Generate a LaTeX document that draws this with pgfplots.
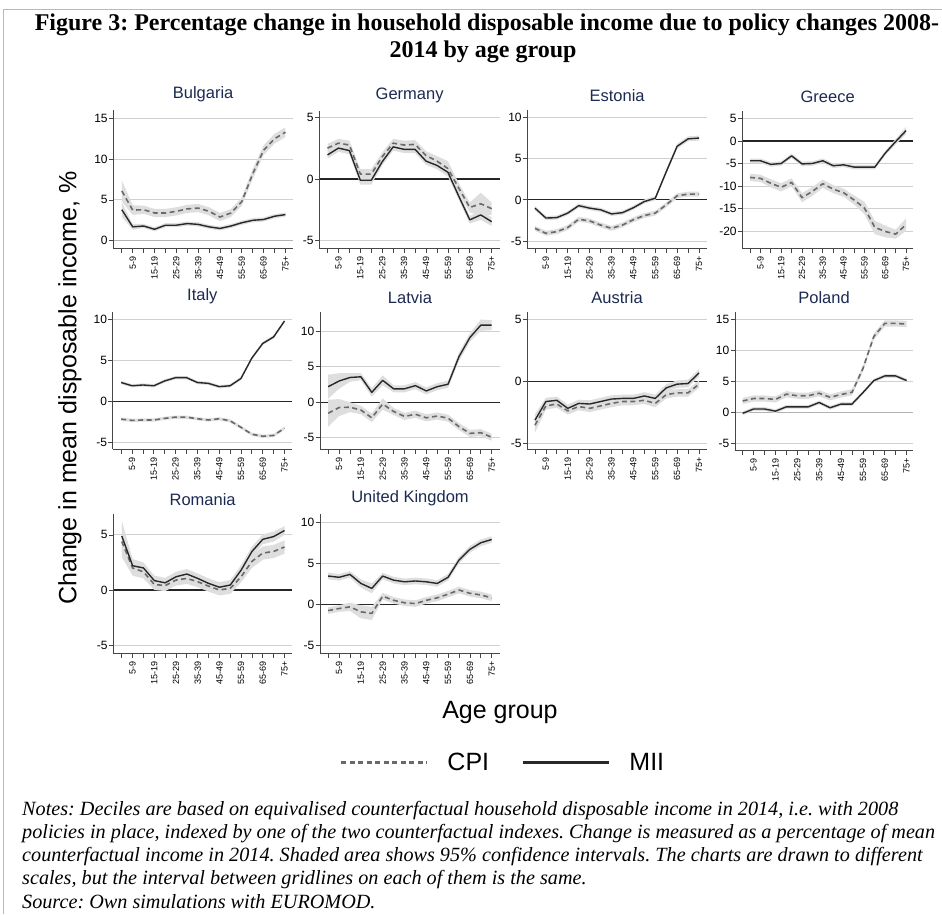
\documentclass[border=0pt]{standalone}
\usepackage{fontspec}
\setmainfont{Liberation Sans}
\newfontfamily\tnr{Liberation Serif}
\usepackage{pgfplots}
\pgfplotsset{compat=1.18}
\usepackage{pgfplotstable}
\usepgfplotslibrary{fillbetween}
\definecolor{titlecol}{RGB}{28,42,82}
\definecolor{bandcol}{RGB}{222,222,222}
\definecolor{cpicol}{RGB}{105,105,105}
\definecolor{miicol}{RGB}{40,40,40}
\definecolor{gridcol}{RGB}{208,208,208}
\definecolor{axcol}{RGB}{70,70,70}

\pgfplotstableread{
x cpi ce mii me
1 6.1 1.3 3.8 0.9
2 3.75 0.6 1.7 0.35
3 3.8 0.5 1.8 0.25
4 3.4 0.5 1.4 0.25
5 3.4 0.5 1.9 0.25
6 3.6 0.5 1.9 0.25
7 3.9 0.5 2.1 0.25
8 4.0 0.5 2.0 0.25
9 3.6 0.5 1.7 0.25
10 2.9 0.5 1.5 0.25
11 3.4 0.5 1.8 0.25
12 4.8 0.5 2.2 0.25
13 8.2 0.6 2.5 0.25
14 11.1 0.6 2.6 0.25
15 12.5 0.6 3.0 0.25
16 13.3 0.6 3.2 0.25
}\tBG
\pgfplotstableread{
x cpi ce mii me
1 2.5 0.35 1.95 0.3
2 2.9 0.35 2.5 0.3
3 2.75 0.35 2.3 0.3
4 0.4 0.4 -0.1 0.35
5 0.4 0.4 -0.1 0.35
6 1.8 0.35 1.4 0.3
7 2.9 0.35 2.6 0.3
8 2.75 0.35 2.4 0.3
9 2.8 0.35 2.4 0.3
10 1.9 0.35 1.45 0.3
11 1.45 0.4 1.1 0.3
12 0.85 0.6 0.55 0.35
13 -0.75 0.4 -1.4 0.3
14 -2.3 0.4 -3.3 0.3
15 -2.0 0.9 -2.9 0.4
16 -2.4 0.5 -3.45 0.35
}\tDE
\pgfplotstableread{
x cpi ce mii me
1 -3.45 0.3 -1.0 0.25
2 -4.05 0.3 -2.2 0.25
3 -3.85 0.3 -2.15 0.25
4 -3.35 0.3 -1.6 0.25
5 -2.35 0.3 -0.7 0.25
6 -2.55 0.3 -1.0 0.25
7 -3.05 0.3 -1.2 0.25
8 -3.45 0.3 -1.7 0.25
9 -3.05 0.3 -1.55 0.25
10 -2.4 0.3 -0.95 0.25
11 -1.9 0.3 -0.2 0.25
12 -1.6 0.3 0.2 0.25
13 -0.6 0.3 3.4 0.3
14 0.5 0.3 6.5 0.3
15 0.7 0.3 7.4 0.3
16 0.7 0.3 7.5 0.3
}\tEE
\pgfplotstableread{
x cpi ce mii me
1 -8.1 0.8 -4.4 0.5
2 -8.3 0.8 -4.4 0.5
3 -9.4 0.9 -5.2 0.5
4 -10.3 0.9 -5.0 0.5
5 -9.2 0.9 -3.3 0.5
6 -12.6 1.0 -5.1 0.5
7 -11.2 1.0 -5.0 0.5
8 -9.5 0.9 -4.4 0.5
9 -10.7 0.9 -5.5 0.5
10 -11.5 0.9 -5.3 0.5
11 -13.1 1.0 -5.8 0.5
12 -14.9 1.4 -5.8 0.5
13 -19.2 1.5 -5.8 0.5
14 -20.1 1.3 -2.7 0.5
15 -20.7 1.0 -0.15 0.6
16 -18.6 1.4 2.3 0.8
}\tGR
\pgfplotstableread{
x cpi ce mii me
1 -2.2 0.2 2.3 0.2
2 -2.35 0.2 1.9 0.2
3 -2.3 0.2 2.0 0.2
4 -2.3 0.2 1.9 0.2
5 -2.1 0.2 2.5 0.2
6 -1.95 0.2 2.9 0.2
7 -1.95 0.2 2.9 0.2
8 -2.15 0.2 2.3 0.2
9 -2.3 0.2 2.2 0.2
10 -2.15 0.2 1.8 0.2
11 -2.4 0.2 1.9 0.2
12 -3.2 0.2 2.8 0.2
13 -4.05 0.2 5.3 0.2
14 -4.3 0.2 7.1 0.2
15 -4.2 0.2 7.9 0.2
16 -3.3 0.2 9.85 0.2
}\tIT
\pgfplotstableread{
x cpi ce mii me
1 -1.55 1.9 2.2 1.7
2 -0.75 1.2 3.0 1.1
3 -0.7 0.7 3.5 0.6
4 -1.1 0.6 3.6 0.5
5 -2.2 0.6 1.4 0.6
6 -0.25 0.8 3.1 0.7
7 -1.3 0.5 1.9 0.5
8 -2.0 0.5 1.9 0.5
9 -1.7 0.5 2.35 0.5
10 -2.2 0.5 1.6 0.5
11 -1.95 0.5 2.2 0.5
12 -2.25 0.5 2.55 0.5
13 -3.45 0.5 6.45 0.6
14 -4.4 0.5 9.15 0.6
15 -4.3 0.5 10.9 0.8
16 -4.95 0.5 10.9 0.7
}\tLV
\pgfplotstableread{
x cpi ce mii me
1 -3.5 0.6 -3.1 0.5
2 -1.95 0.3 -1.6 0.3
3 -1.8 0.3 -1.5 0.3
4 -2.35 0.3 -2.15 0.3
5 -2.0 0.3 -1.75 0.3
6 -2.15 0.3 -1.8 0.3
7 -1.95 0.3 -1.6 0.3
8 -1.75 0.3 -1.4 0.3
9 -1.6 0.3 -1.35 0.3
10 -1.6 0.3 -1.35 0.3
11 -1.5 0.3 -1.15 0.3
12 -1.75 0.3 -1.35 0.3
13 -1.05 0.3 -0.5 0.3
14 -0.9 0.3 -0.2 0.3
15 -0.9 0.3 -0.15 0.3
16 -0.2 0.3 0.7 0.3
}\tAT
\pgfplotstableread{
x cpi ce mii me
1 1.85 0.5 -0.15 0.3
2 2.25 0.5 0.55 0.3
3 2.25 0.5 0.55 0.3
4 2.1 0.5 0.2 0.3
5 2.95 0.5 0.9 0.3
6 2.7 0.5 0.9 0.3
7 2.7 0.5 0.9 0.3
8 3.1 0.5 1.6 0.3
9 2.45 0.5 0.75 0.3
10 2.9 0.5 1.35 0.3
11 3.25 0.5 1.35 0.3
12 7.1 0.5 3.2 0.3
13 12.3 0.5 5.15 0.3
14 14.4 0.5 5.9 0.3
15 14.4 0.5 5.9 0.3
16 14.3 0.5 5.15 0.3
}\tPL
\pgfplotstableread{
x cpi ce mii me
1 4.4 1.4 4.9 1.4
2 2.0 0.7 2.2 0.6
3 1.65 0.6 2.0 0.5
4 0.5 0.5 0.85 0.45
5 0.4 0.5 0.65 0.45
6 0.9 0.5 1.2 0.45
7 1.05 0.5 1.45 0.45
8 0.75 0.5 1.05 0.45
9 0.35 0.5 0.6 0.45
10 0.0 0.5 0.25 0.45
11 0.15 0.5 0.45 0.45
12 1.2 0.5 1.8 0.45
13 2.6 0.6 3.5 0.45
14 3.35 0.6 4.6 0.45
15 3.5 0.6 4.85 0.45
16 3.9 0.6 5.4 0.4
}\tRO
\pgfplotstableread{
x cpi ce mii me
1 -0.75 0.4 3.45 0.4
2 -0.5 0.4 3.3 0.4
3 -0.3 0.5 3.65 0.4
4 -0.9 0.8 2.55 0.5
5 -1.1 0.8 1.95 0.6
6 1.0 0.4 3.45 0.4
7 0.5 0.4 2.95 0.4
8 0.2 0.4 2.75 0.4
9 0.1 0.4 2.85 0.4
10 0.5 0.4 2.75 0.4
11 0.8 0.4 2.55 0.4
12 1.25 0.4 3.3 0.4
13 1.75 0.4 5.4 0.4
14 1.35 0.4 6.7 0.4
15 1.15 0.4 7.5 0.4
16 0.8 0.4 7.9 0.4
}\tUK

\pgfplotsset{
  cpistyle/.style={cpicol, line width=1.6pt, dash pattern=on 5pt off 3.5pt, line join=round},
  miistyle/.style={miicol, line width=1.4pt, line join=round},
  panel/.style={
    scale only axis, anchor=south west,
    axis x line*=bottom, axis y line*=left,
    xtick={1,...,16},
    xticklabels={,5-9,,15-19,,25-29,,35-39,,45-49,,55-59,,65-69,,75+},
    x tick label style={rotate=90, anchor=east, font=\fontsize{9}{9}\selectfont, inner sep=3pt},
    ytick distance=5,
    y tick label style={font=\fontsize{12}{12}\selectfont, inner sep=1pt},
    /pgf/number format/assume math mode=true,
    tick align=outside, major tick length=4.5pt,
    ymajorgrids, grid style={gridcol, line width=0.9pt},
    axis line style={axcol, line width=1pt},
    tick style={axcol, line width=0.8pt},
    extra y ticks={0}, extra y tick labels={},
    extra y tick style={grid style={black!85, line width=1.1pt}, major tick length=0pt},
    title style={font=\fontsize{16.5}{16.5}\selectfont, color=titlecol, yshift=-1.5pt},
  },
  greyzero/.style={extra y tick style={grid style={gray!60, line width=1.1pt}, major tick length=0pt}},
}

\newcommand{\panel}[1]{%
  \addplot[name path=ch, draw=none, forget plot] table[x=x, y expr=\thisrow{cpi}+\thisrow{ce}] {#1};
  \addplot[name path=cl, draw=none, forget plot] table[x=x, y expr=\thisrow{cpi}-\thisrow{ce}] {#1};
  \addplot[bandcol, forget plot] fill between[of=ch and cl];
  \addplot[name path=mh, draw=none, forget plot] table[x=x, y expr=\thisrow{mii}+\thisrow{me}] {#1};
  \addplot[name path=ml, draw=none, forget plot] table[x=x, y expr=\thisrow{mii}-\thisrow{me}] {#1};
  \addplot[bandcol, forget plot] fill between[of=mh and ml];
  \addplot[cpistyle] table[x=x, y=cpi] {#1};
  \addplot[miistyle] table[x=x, y=mii] {#1};
}

\begin{document}
\frenchspacing
\begin{tikzpicture}
\path (0pt,0pt) rectangle (942pt,914pt);
\draw[gray!55, line width=1pt] (3.5pt,0.5pt) -- (3.5pt,904.5pt) -- (941.5pt,904.5pt);

\node[anchor=base, font=\tnr\bfseries\fontsize{24}{24}\selectfont, inner sep=0pt] at (487pt,883pt)
  {Figure 3: Percentage change in household disposable income due to policy changes 2008-};
\node[anchor=base, font=\tnr\bfseries\fontsize{24}{24}\selectfont, inner sep=0pt] at (483pt,856pt)
  {2014 by age group};

% Row 1
\begin{axis}[panel, at={(113.3pt,665.7pt)}, width=179.7pt, height=138.3pt,
  xmin=0.22, xmax=16.69, ymin=-0.93, ymax=16.02, title={Bulgaria}, greyzero]
\panel{\tBG}
\end{axis}
\begin{axis}[panel, at={(319.3pt,665.7pt)}, width=180.7pt, height=137.3pt,
  xmin=0.25, xmax=16.76, ymin=-5.6, ymax=5.5, title={Germany}]
\panel{\tDE}
\end{axis}
\begin{axis}[panel, at={(527.3pt,665.7pt)}, width=179.7pt, height=138.3pt,
  xmin=0.3, xmax=16.73, ymin=-5.87, ymax=10.9, title={Estonia}]
\panel{\tEE}
\end{axis}
\begin{axis}[panel, at={(742.3pt,665pt)}, width=170.7pt, height=138pt,
  xmin=0.26, xmax=16.67, ymin=-24.0, ymax=6.66, title={Greece}]
\panel{\tGR}
\end{axis}
% Row 2
\begin{axis}[panel, at={(112.7pt,464.7pt)}, width=179.3pt, height=137.6pt,
  xmin=0.22, xmax=16.69, ymin=-5.9, ymax=11.0, title={Italy}]
\panel{\tIT}
\end{axis}
\begin{axis}[panel, at={(320pt,464pt)}, width=180pt, height=138.3pt,
  xmin=0.25, xmax=16.76, ymin=-6.75, ymax=12.8, title={Latvia}]
\panel{\tLV}
\end{axis}
\begin{axis}[panel, at={(527.3pt,464pt)}, width=179.7pt, height=138.3pt,
  xmin=0.3, xmax=16.73, ymin=-5.5, ymax=5.63, title={Austria}]
\panel{\tAT}
\end{axis}
\begin{axis}[panel, at={(735pt,463.3pt)}, width=178pt, height=139pt,
  xmin=0.3, xmax=16.58, ymin=-6.2, ymax=16.3, title={Poland}, greyzero]
\panel{\tPL}
\end{axis}
% Row 3
\begin{axis}[panel, at={(113.3pt,260.7pt)}, width=178.7pt, height=139.3pt,
  xmin=0.22, xmax=16.69, ymin=-5.75, ymax=6.9, title={Romania}]
\panel{\tRO}
\end{axis}
\begin{axis}[panel, at={(320pt,260.7pt)}, width=180pt, height=139.3pt,
  xmin=0.25, xmax=16.76, ymin=-5.95, ymax=11.0, title={United Kingdom},
  legend columns=2,
  legend image code/.code={\draw[#1, line width=2.3pt] (0pt,0pt) -- (86pt,0pt);},
  legend style={at={(0.111,-0.784)}, anchor=west, draw=none, fill=none,
    font=\fontsize{25}{25}\selectfont, inner sep=0pt,
    nodes={inner sep=0pt},
    /tikz/every odd column/.append style={column sep=19pt},
    /tikz/every even column/.append style={column sep=33pt}}]
\panel{\tUK}
\legend{CPI,MII}
\end{axis}

\node[rotate=90, font=\fontsize{25}{25}\selectfont] at (70pt,526pt) {Change in mean disposable income, \%};
\node[anchor=base, font=\fontsize{25}{25}\selectfont] at (500pt,196pt) {Age group};

\begin{scope}[every node/.style={anchor=base west, inner sep=0pt, font=\tnr\itshape\fontsize{20.2}{20.2}\selectfont}]
\node at (22pt,99pt) {Notes: Deciles are based on equivalised counterfactual household disposable income in 2014, i.e. with 2008};
\node at (22pt,76pt) {policies in place, indexed by one of the two counterfactual indexes. Change is measured as a percentage of mean};
\node at (22pt,53pt) {counterfactual income in 2014. Shaded area shows 95\% confidence intervals. The charts are drawn to different};
\node at (22pt,29.5pt) {scales, but the interval between gridlines on each of them is the same.};
\node at (22pt,6pt) {Source: Own simulations with EUROMOD.};
\end{scope}
\end{tikzpicture}
\end{document}
